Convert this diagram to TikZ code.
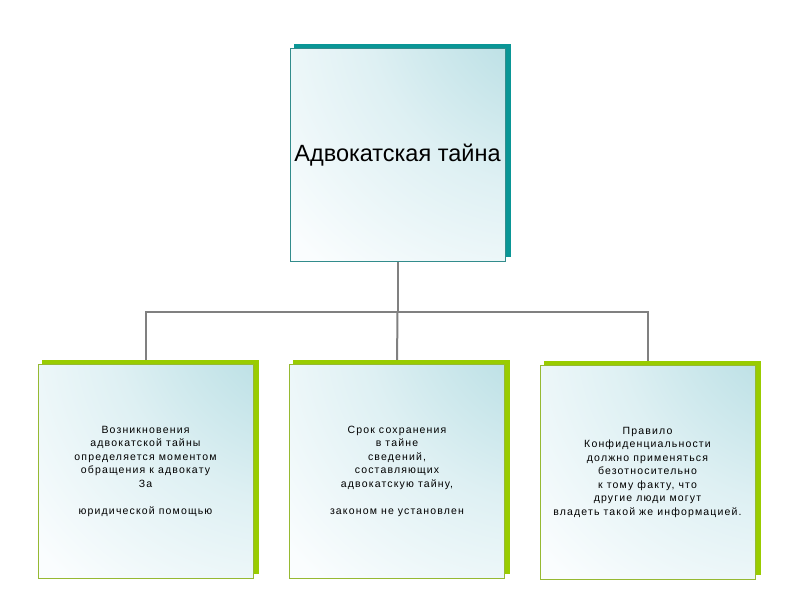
\documentclass[tikz,border=0pt]{standalone}
\usepackage{fontspec}
\setmainfont{Liberation Sans}
\newfontfamily\boxfont{Liberation Sans}[LetterSpace=11]
\usetikzlibrary{backgrounds}
\pgfdeclarelayer{bg}
\pgfdeclarelayer{shadowlayer}
\pgfsetlayers{bg,shadowlayer,main}
\definecolor{tealband}{RGB}{10,150,150}
\definecolor{tealline}{RGB}{50,140,140}
\definecolor{greenband}{RGB}{153,204,0}
\definecolor{greenline}{RGB}{150,185,50}
\definecolor{tintdeep}{RGB}{168,214,220}
\definecolor{filltint}{RGB}{190,225,230}
\definecolor{fillmid}{RGB}{222,240,243}
\definecolor{fillpale}{RGB}{250,253,254}
\definecolor{connc}{RGB}{128,128,128}
\pgfdeclareradialshading{panelshade}{\pgfpoint{48bp}{48bp}}{%
  color(0bp)=(tintdeep); color(22bp)=(filltint); color(42bp)=(fillmid); color(68bp)=(fillpale); color(150bp)=(fillpale)}
\tikzset{
  panel/.style={minimum width=215pt, minimum height=213pt, inner sep=0pt,
    shading=panelshade, align=center, line width=1pt},
  toppanel/.style={panel, draw=tealline, font=\fontsize{23.5}{28}\selectfont},
  lowpanel/.style={panel, draw=greenline, minimum height=214pt, font=\boxfont\fontsize{10.5}{13.5}\selectfont},
  conn/.style={draw=connc, line width=2pt},
}
\begin{document}
\begin{tikzpicture}[x=1pt,y=-1pt]
\useasboundingbox (0,0) rectangle (800,600);
\node[toppanel] (top) at (397.5,155) {Адвокатская тайна};
\node[lowpanel] (b1) at (145.5,471) {Возникновения\\адвокатской тайны\\определяется моментом\\обращения к адвокату\\За\\[13.5pt]юридической помощью};
\node[lowpanel] (b2) at (397,471) {Срок сохранения\\в тайне\\сведений,\\составляющих\\адвокатскую тайну,\\[13.5pt]законом не установлен};
\node[lowpanel] (b3) at (647.5,472) {Правило\\Конфиденциальности\\должно применяться\\безотносительно\\к тому факту, что\\другие люди могут\\владеть такой же информацией.};
\coordinate (bus) at (397.5,312);
\begin{pgfonlayer}{shadowlayer}
\fill[tealband] ([xshift=4pt,yshift=5pt]top.south west) rectangle ([xshift=5pt,yshift=4pt]top.north east);
\foreach \n in {b1,b2,b3}{
  \fill[greenband] ([xshift=4pt,yshift=5pt]\n.south west) rectangle ([xshift=5pt,yshift=4pt]\n.north east);
}
\end{pgfonlayer}
\begin{pgfonlayer}{bg}
\draw[conn] (top.south) -- (bus);
\draw[conn] (b1.north) |- (bus) -| (b3.north);
\draw[conn] (bus) -- (b2.north);
\end{pgfonlayer}
\end{tikzpicture}
\end{document}
